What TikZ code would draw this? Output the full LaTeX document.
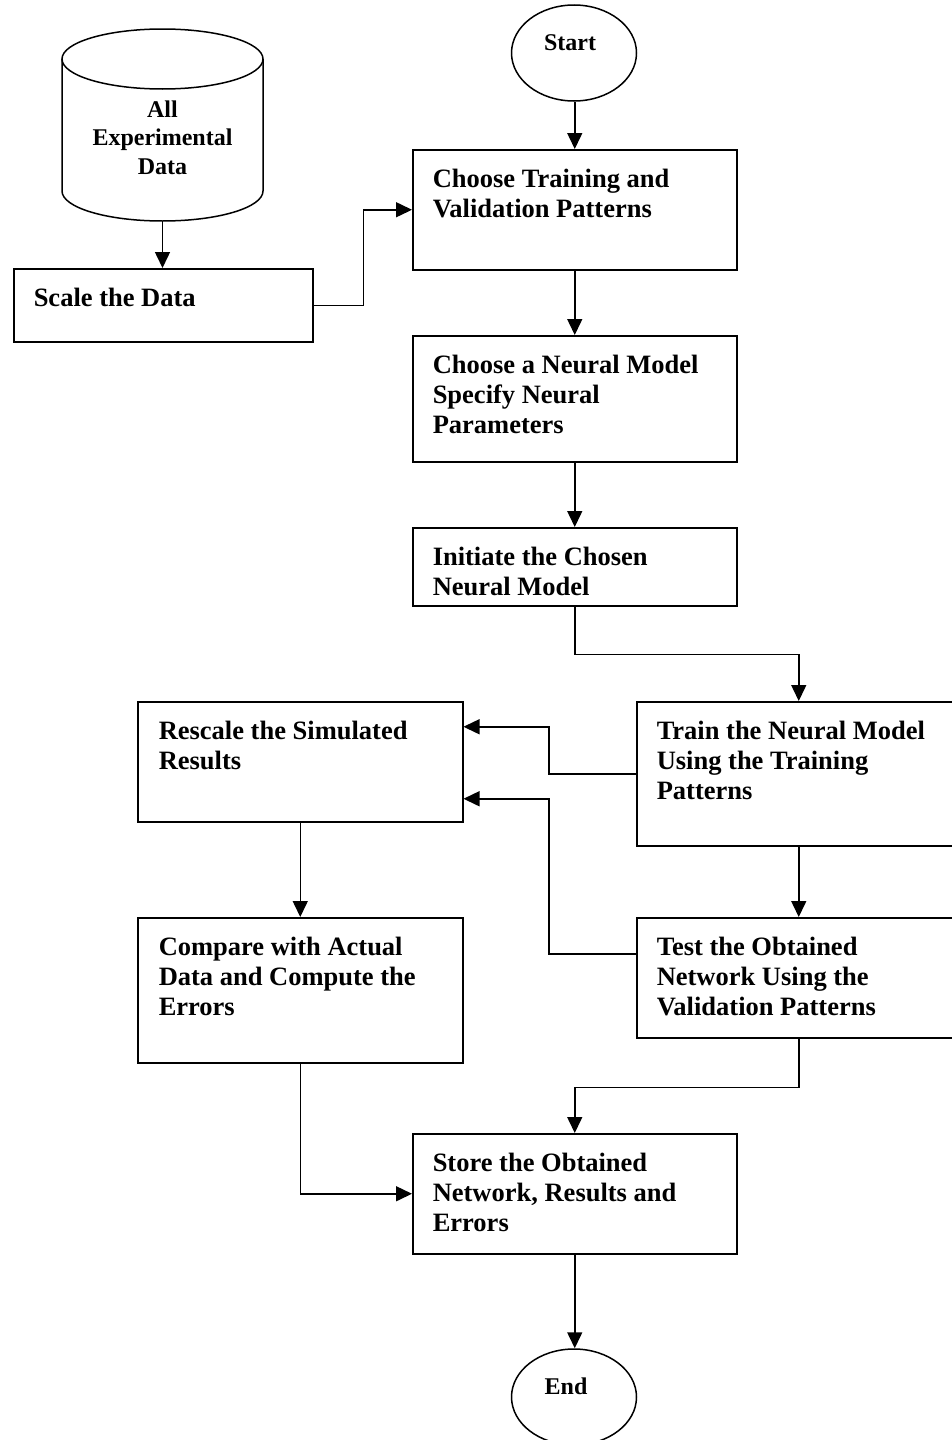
\documentclass[tikz,border=0pt]{standalone}
\usepackage{fontspec}
\setmainfont{Liberation Serif}
\usetikzlibrary{shapes.geometric,arrows.meta}
\begin{document}
\begin{tikzpicture}[x=1pt,y=-1pt,
  line width=1.5pt,
  boxnode/.style={draw, rectangle, anchor=north west, minimum width=324pt, inner sep=0pt},
  boxtext/.style={anchor=north west, inner sep=0pt, align=left, font=\fontsize{26.5}{30}\selectfont\bfseries},
  arr/.style={-{Triangle[length=16pt,width=15pt]}, line width=1.5pt},
  term/.style={draw, ellipse, minimum width=125pt, minimum height=96pt, inner sep=0pt},
  termtext/.style={anchor=base, inner sep=0pt, font=\fontsize{24}{28}\selectfont\bfseries}
]
\useasboundingbox (0,0) rectangle (952,1440);
\clip (0,0) rectangle (952,1440);

% database cylinder
\node[minimum width=201pt, minimum height=192pt, inner sep=0pt] (data) at (162.5,125) {};
\draw (162.5,59) ellipse [x radius=100.5pt, y radius=30pt];
\draw (62,59) -- (62,191)
  .. controls (62,207.6) and (107,221) .. (162.5,221)
  .. controls (218,221) and (263,207.6) .. (263,191) -- (263,59);
\node[anchor=north, inner sep=0pt, align=center, font=\fontsize{24}{28.5}\selectfont\bfseries] (datat) at (162.5,100) {All\\Experimental\\Data};

% terminals
\node[term] (start) at (574,53) {};
\node[termtext] (startt) at (570,50) {Start};
\node[term] (end) at (574,1397) {};
\node[termtext] (endt) at (566,1394) {End};

% boxes
\node[boxnode, minimum height=120pt] (c1) at (412,149) {};
\node[boxtext] (c1t) at (432,168) {Choose Training and\\Validation Patterns};

\node[boxnode, minimum width=299pt, minimum height=73pt] (scale) at (13,268) {};
\node[boxtext] (scalet) at (33,287) {Scale the Data};

\node[boxnode, minimum height=126pt] (c2) at (412,335) {};
\node[boxtext] (c2t) at (432,354) {Choose a Neural Model\\Specify Neural\\Parameters};

\node[boxnode, minimum height=78pt] (init) at (412,527) {};
\node[boxtext] (initt) at (432,546) {Initiate the Chosen\\Neural Model};

\node[boxnode, minimum height=144pt] (train) at (636,701) {};
\node[boxtext] (traint) at (656,720) {Train the Neural Model\\Using the Training\\Patterns};

\node[boxnode, minimum width=325pt, minimum height=120pt] (rescale) at (137,701) {};
\node[boxtext] (rescalet) at (158,720) {Rescale the Simulated\\Results};

\node[boxnode, minimum height=120pt] (test) at (636,917) {};
\node[boxtext] (testt) at (656,936) {Test the Obtained\\Network Using the\\Validation Patterns};

\node[boxnode, minimum width=325pt, minimum height=145pt] (compare) at (137,917) {};
\node[boxtext] (comparet) at (158,936) {Compare with Actual\\Data and Compute the\\Errors};

\node[boxnode, minimum height=120pt] (store) at (412,1133) {};
\node[boxtext] (storet) at (432,1152) {Store the Obtained\\Network, Results and\\Errors};

% connectors
\draw[arr] (c1.north |- start.south) -- (c1.north);
\draw[arr] (data.south) -- (data.south |- scale.north);
\draw[arr] (scale.east) -- ++(50,0) |- (c1.west);
\draw[arr] (c1.south) -- (c2.north);
\draw[arr] (c2.south) -- (init.north);
\draw[arr] (init.south) -- ++(0,48) -| (train.north);
\draw[arr] (train.west) -- ++(-87,0) |- ([yshift=35pt]rescale.east);
\draw[arr] ([yshift=24pt]test.west) -- ++(-87,0) |- ([yshift=-37pt]rescale.east);
\draw[arr] (rescale.south) -- (compare.north);
\draw[arr] (train.south) -- (test.north);
\draw[arr] (test.south) -- ++(0,49) -| (store.north);
\draw[arr] (compare.south) |- (store.west);
\draw[arr] (store.south) -- (store.south |- end.north);
\end{tikzpicture}
\end{document}
